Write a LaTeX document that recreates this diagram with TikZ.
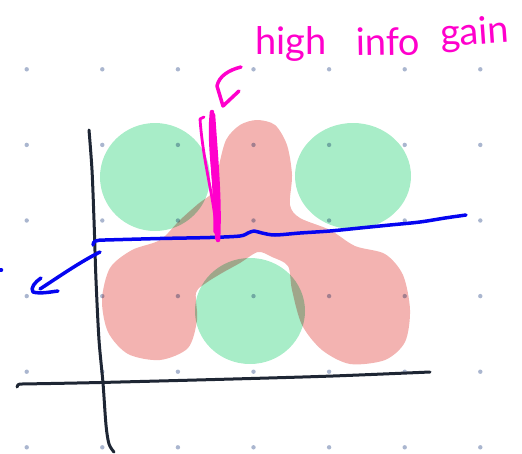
\documentclass[tikz,border=0pt]{standalone}
\usepackage{fontspec}
\newfontfamily\handfont{Lato}
\usetikzlibrary{positioning}
\definecolor{dotgrey}{RGB}{170,182,207}
\definecolor{mint}{RGB}{168,237,200}
\definecolor{salmon}{RGB}{243,179,177}
\definecolor{inkblue}{RGB}{5,5,240}
\definecolor{inkmag}{RGB}{255,0,204}
\definecolor{axisnavy}{RGB}{30,38,52}

\begin{document}
\begin{tikzpicture}[
  x=1pt, y=-1pt,
  griddot/.style={fill=dotgrey},
  mintblob/.style={fill=mint, blend mode=multiply},
  salmonblob/.style={fill=salmon, blend mode=multiply},
  axisline/.style={draw=axisnavy, line width=3pt, line cap=round, line join=round},
  bluepen/.style={draw=inkblue, line width=3.5pt, line cap=round, line join=round},
  magpen/.style={draw=inkmag, line width=3.5pt, line cap=round, line join=round},
  hand/.style={inkmag, font=\handfont\fontsize{38}{40}\selectfont, inner sep=0pt, anchor=base west}
]
  \useasboundingbox (0,0) rectangle (522,453);

  % dot grid
  \foreach \i in {0,...,6}
    \foreach \j in {0,...,5}
      \fill[griddot] (26.7+75.6*\i, 69.3+75.6*\j) circle (2.2);

  % red cluster (one path, so it is painted once)
  \fill[salmonblob] plot[smooth cycle, tension=0.5] coordinates {
    (257,120) (275,125) (287,145) (292,175) (290,205) (300,218) (330,230)
    (355,246) (385,254) (403,275) (410,310) (405,342) (385,360) (350,364)
    (322,350) (302,325) (292,290) (288,266) (272,257) (258,252) (240,263)
    (222,273) (206,283) (196,293) (197,320) (188,348) (160,360) (128,354)
    (108,332) (102,300) (110,268) (132,250) (160,240) (180,220) (198,204)
    (214,191) (218,170) (226,140) (240,125)};

  % green clusters
  \fill[mintblob] (155,177) ellipse (55 and 54);
  \fill[mintblob] (353,176) ellipse (58 and 53);
  \fill[mintblob] (250,311) ellipse (55 and 53);

  % axes
  \draw[axisline] plot[smooth] coordinates {(89,130) (92,170) (94,220) (96,280)
    (99,340) (103,383) (106,425) (109,444) (114,452)};
  \draw[axisline] (17,387) .. controls (17,385) and (18,384) .. (22,384)
    plot[smooth] coordinates {(22,384) (100,382.5) (233,379) (333,376) (430,372)};

  % split line and arrow
  \draw[bluepen] (93,245) .. controls (93,241) and (96,240) .. (105,240)
    plot[smooth] coordinates {(105,240) (160,238.5) (210,237.5) (240,236) (248,233)
      (254,231) (262,233) (275,235) (300,233) (330,231) (360,228) (390,225)
      (420,222) (445,218) (466,215)};
  \draw[bluepen] (100,252) .. controls (80,262) and (60,276) .. (40,289);
  \draw[bluepen] (41,278) .. controls (35,282) and (30,288) .. (33,292)
    .. controls (40,294) and (50,292) .. (58,291);
  \draw[bluepen] (0,270) -- (1.5,270);

  % highlighted split
  \draw[magpen, line width=2.8pt] (204,117) -- (200,119)
    .. controls (203,160) and (212,190) .. (216,225);
  \draw[magpen, line width=4.5pt] (212,112) .. controls (208,150) and (218,190) .. (217,238);
  \draw[magpen, line width=4.5pt] (213,115) .. controls (216,160) and (220,200) .. (218,240);
  \draw[magpen] (211,125) .. controls (212,170) and (216,200) .. (215,232);
  \draw[magpen] (241,67) .. controls (229,70) and (219,76) .. (217,86)
    -- (223,106) -- (239,91);

  % label
  \node[hand] (high) at (255,54) {high};
  \node[hand, rotate=1] (info) at (356,56) {info};
  \node[hand, rotate=4] (gain) at (441,47) {gain};
\end{tikzpicture}
\end{document}
